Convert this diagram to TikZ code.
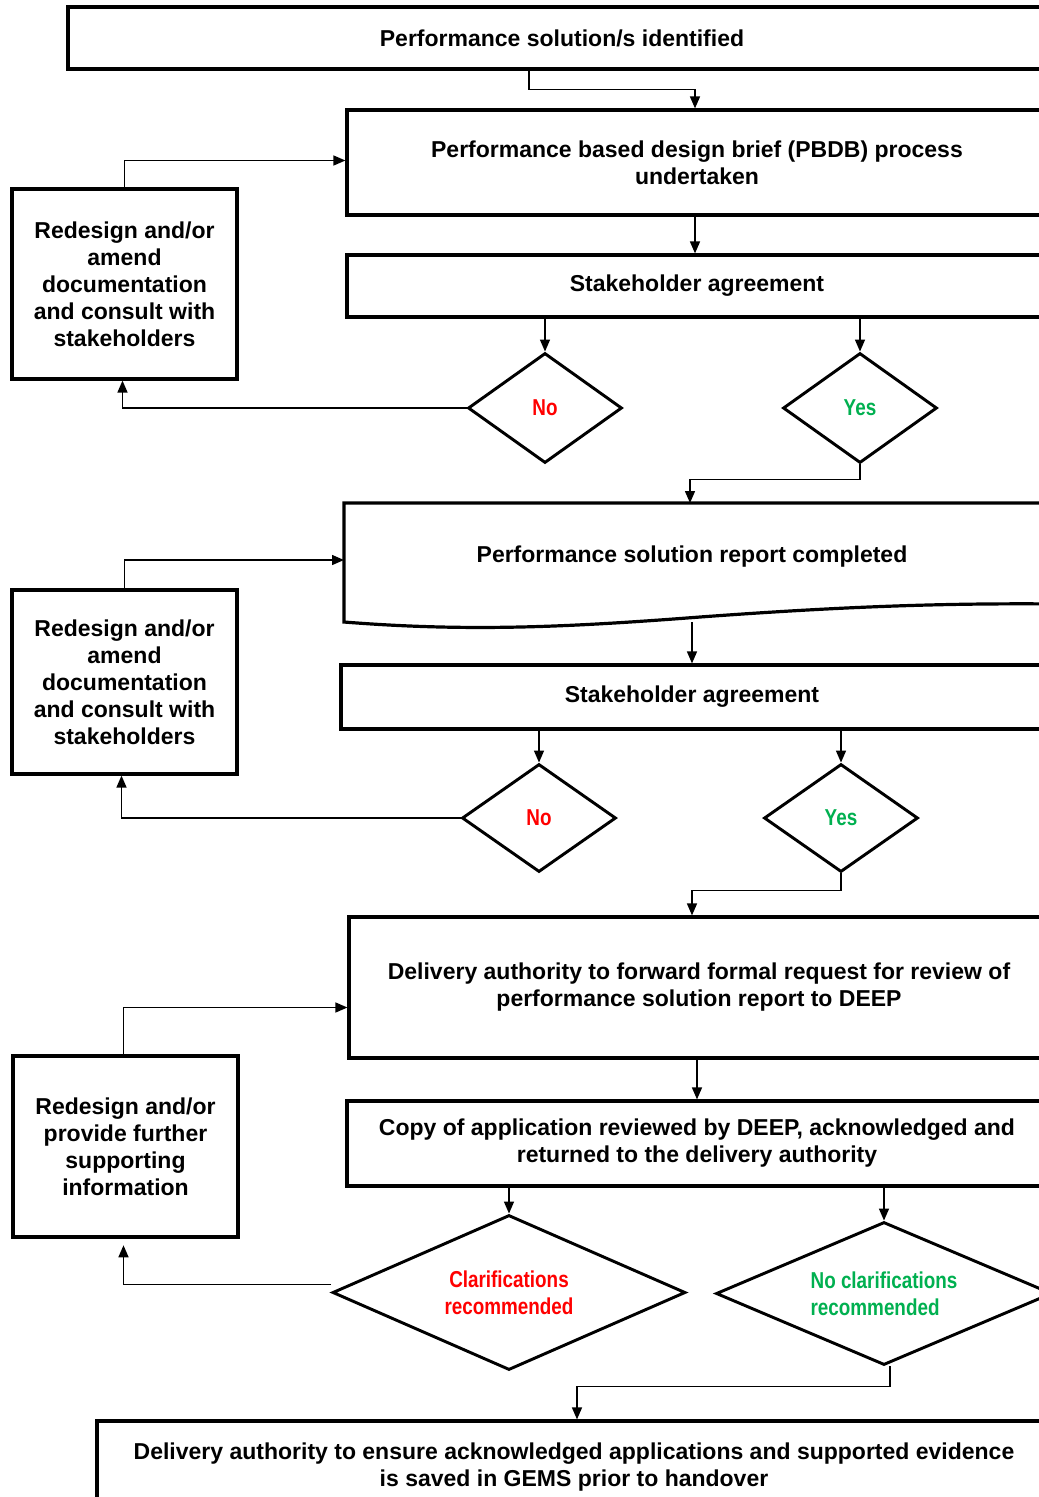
\documentclass[tikz,border=0pt]{standalone}
\usepackage{fontspec}
\setmainfont{Liberation Sans}
\newfontfamily\narrowfont[FakeStretch=0.82]{Liberation Sans}
\usetikzlibrary{arrows.meta,shapes.geometric,calc}
\definecolor{okgreen}{RGB}{0,176,80}
\tikzset{
  boxst/.style={draw, line width=2.4pt, rectangle, inner sep=0pt, align=center,
    font=\fontsize{17.25}{20.25}\selectfont\bfseries},
  txt/.style={inner sep=0pt, align=center, font=\fontsize{17.25}{20.25}\selectfont\bfseries},
  dia/.style={draw, line width=2.2pt, diamond, inner sep=0pt, align=center,
    font=\fontsize{17.25}{20.25}\narrowfont\bfseries},
  arr/.style={line width=1.1pt, -{Triangle[length=9pt,width=7.5pt]}},
}
\begin{document}
\begin{tikzpicture}[x=0.75pt,y=-0.75pt]
\useasboundingbox (0,0) rectangle (1039,1497);
\fill[white] (0,0) rectangle (1039,1497);
\clip (0,0) rectangle (1039,1497);

% boxes
\node[boxst, minimum width=741pt, minimum height=46.5pt] (b1) at (562,38) {Performance solution/s identified};
\node[boxst, minimum width=525pt, minimum height=78.75pt] (pb) at (697,162.5) {Performance based design brief (PBDB) process\\undertaken};
\node[boxst, minimum width=525pt, minimum height=46.5pt] (s1) at (697,286) {Stakeholder agreement};
\node[boxst, minimum width=168.75pt, minimum height=142.5pt] (lb1) at (124.5,284) {Redesign and/or\\amend\\documentation\\and consult with\\stakeholders};

\node[dia, aspect=1.4, minimum width=115.5pt, minimum height=82.5pt, text=red] (n1) at (545,408) {No};
\node[dia, aspect=1.4, minimum width=115.5pt, minimum height=82.5pt, text=okgreen] (y1) at (860,408) {Yes};

% report (document shape)
\draw[line width=2.4pt, line join=miter] (1060,604) .. controls (950,603) and (850,606) .. (700,617)
  .. controls (570,627) and (470,632) .. (344,622) -- (344,503) -- (1060,503);
\node[txt] (rep) at (692,557) {Performance solution report completed};
\coordinate (repn) at (690,503);
\coordinate (repw) at (344,560);
\coordinate (reps) at (692,622);

\node[boxst, minimum width=526.5pt, minimum height=48pt] (s2) at (692,697) {Stakeholder agreement};
\node[boxst, minimum width=168.75pt, minimum height=138pt] (lb2) at (124.5,682) {Redesign and/or\\amend\\documentation\\and consult with\\stakeholders};

\node[dia, aspect=1.4, minimum width=115.5pt, minimum height=81pt, text=red] (n2) at (539,818) {No};
\node[dia, aspect=1.4, minimum width=115.5pt, minimum height=81pt, text=okgreen] (y2) at (841,818) {Yes};

\node[boxst, minimum width=525pt, minimum height=105.75pt] (del) at (699,987.5) {Delivery authority to forward formal request for review of\\performance solution report to DEEP};
\node[boxst, minimum width=168.75pt, minimum height=135.75pt] (lb3) at (125.5,1146.5) {Redesign and/or\\provide further\\supporting\\information};
\node[boxst, minimum width=525pt, minimum height=63.75pt] (cp) at (697,1143.5) {Copy of application reviewed by DEEP, acknowledged and\\returned to the delivery authority};

\node[dia, aspect=2.28, minimum width=264.75pt, minimum height=116.25pt, text=red] (cl) at (509,1292.5) {Clarifications\\recommended};
\node[dia, aspect=2.35, minimum width=252pt, minimum height=107.25pt, text=okgreen, align=left] (nc) at (884,1293.5) {No clarifications\\recommended};

\node[boxst, minimum width=715.5pt, minimum height=69pt] (last) at (574,1467) {Delivery authority to ensure acknowledged applications and supported evidence\\is saved in GEMS prior to handover};

% connectors
\draw[arr] ($(b1.south)+(-33,0)$) -- ++(0,19) -| ($(pb.north)+(-2,0)$);
\draw[arr] (lb1.north) |- ($(pb.west)+(0,-2)$);
\draw[arr] ($(pb.south)+(-2,0)$) -- ($(s1.north)+(-2,0)$);
\draw[arr] (n1.north |- s1.south) -- (n1.north);
\draw[arr] (y1.north |- s1.south) -- (y1.north);
\draw[arr] (n1.west) -| ($(lb1.south)+(-2,0)$);
\draw[arr] (y1.south) -- ++(0,15) -| (repn);

\draw[arr] (lb2.north) |- (repw);
\draw[arr] (reps) -- (s2.north);
\draw[arr] (n2.north |- s2.south) -- (n2.north);
\draw[arr] (y2.north |- s2.south) -- (y2.north);
\draw[arr] (n2.west) -| ($(lb2.south)+(-3,0)$);
\draw[arr] (y2.south) -- ++(0,17) -| ($(del.north)+(-7,0)$);

\draw[arr] ($(lb3.north)+(-2,0)$) |- ($(del.west)+(0,20)$);
\draw[arr] (cp.north |- del.south) -- (cp.north);
\draw[arr] (cl.north |- cp.south) -- (cl.north);
\draw[arr] (nc.north |- cp.south) -- (nc.north);
\draw[arr, shorten >=5pt] ($(cl.west)+(0,-8)$) -| ($(lb3.south)+(-2,0)$);
\draw[arr] ($(nc.south)+(6,0)$) -- ++(0,20) -| ($(last.north)+(3,0)$);
\end{tikzpicture}
\end{document}
